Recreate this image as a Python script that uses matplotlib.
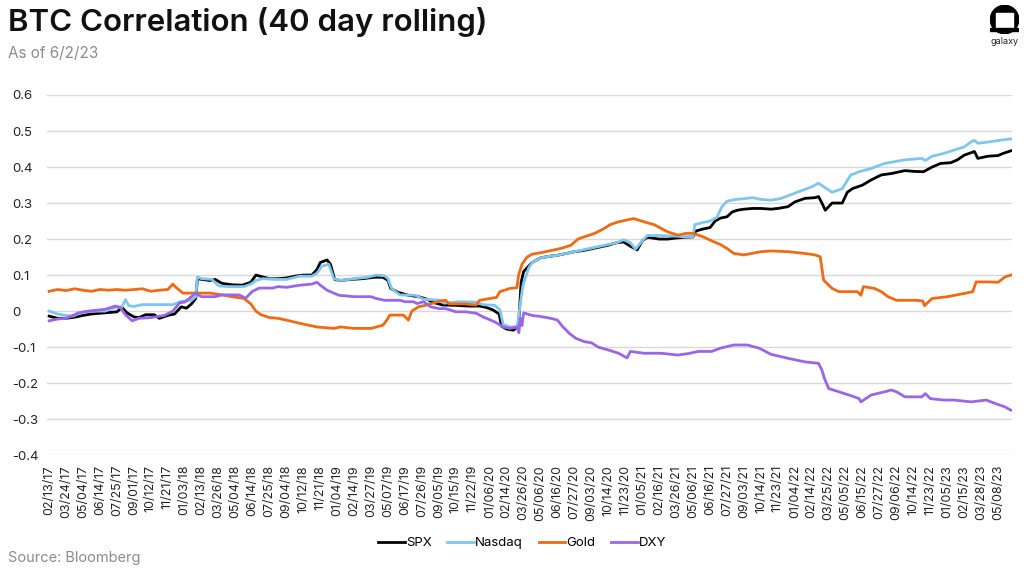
import matplotlib.pyplot as plt
from matplotlib.patches import Circle, Rectangle

plt.rcParams['font.family'] = ['Inter', 'DejaVu Sans']

# x tick labels (every 28th trading day, as in the source chart)
tick_dates = ['02/13/17', '03/24/17', '05/04/17', '06/14/17', '07/25/17', '09/01/17',
              '10/12/17', '11/21/17', '01/03/18', '02/13/18', '03/26/18', '05/04/18',
              '06/14/18', '07/25/18', '09/04/18', '10/12/18', '11/21/18', '01/04/19',
              '02/14/19', '03/27/19', '05/07/19', '06/17/19', '07/26/19', '09/05/19',
              '10/15/19', '11/22/19', '01/06/20', '02/14/20', '03/26/20', '05/06/20',
              '06/16/20', '07/27/20', '09/03/20', '10/14/20', '11/23/20', '01/05/21',
              '02/16/21', '03/26/21', '05/06/21', '06/16/21', '07/27/21', '09/03/21',
              '10/14/21', '11/23/21', '01/04/22', '02/14/22', '03/25/22', '05/05/22',
              '06/15/22', '07/27/22', '09/06/22', '10/14/22', '11/23/22', '01/05/23',
              '02/15/23', '03/28/23', '05/08/23']

# positions are in units of tick intervals (0 = 02/13/17)
spx_t = [0, 0.5, 1.0, 1.5, 2.0, 2.5, 3.0, 3.5, 4.0, 4.3, 4.6, 5.0, 5.3, 5.7, 6.2, 6.5,
         7.0, 7.4, 7.8, 8.1, 8.4, 8.65, 8.75, 9.0, 9.5, 9.8, 10.2, 10.8, 11.4, 11.9,
         12.2, 12.6, 13.0, 13.5, 14.0, 14.5, 15.0, 15.5, 15.8, 16.0, 16.4, 16.6, 16.85,
         17.2, 17.8, 18.5, 19.2, 19.7, 20.0, 20.15, 20.6, 21.2, 21.8, 22.3, 22.6, 23.2,
         24.0, 24.7, 25.4, 25.8, 26.2, 26.55, 26.7, 27.0, 27.4, 27.6, 27.7, 27.85, 28.0,
         28.5, 29.0, 29.5, 30.0, 30.5, 31.0, 31.5, 32.0, 32.5, 33.0, 33.5, 33.9, 34.3,
         34.7, 35.0, 35.3, 36.0, 36.5, 37.0, 37.5, 38.0, 38.15, 38.5, 39.0, 39.3, 39.6,
         40.0, 40.3, 40.6, 41.0, 41.5, 42.0, 42.6, 43.0, 43.6, 44.0, 44.6, 45.2, 45.4,
         45.6, 45.8, 46.2, 46.8, 47.1, 47.4, 48.0, 48.5, 49.1, 49.7, 50.5, 51.0, 51.6,
         52.1, 52.6, 53.2, 53.6, 54.0, 54.6, 54.8, 55.4, 56.0, 56.3, 56.75]
spx = [-0.014, -0.02, -0.02, -0.017, -0.012, -0.008, -0.006, -0.004, -0.002, 0.01,
       -0.005, -0.016, -0.018, -0.01, -0.01, -0.02, -0.012, -0.008, 0.012, 0.008, 0.02,
       0.035, 0.09, 0.088, 0.085, 0.088, 0.077, 0.073, 0.072, 0.08, 0.1, 0.095, 0.09,
       0.09, 0.092, 0.097, 0.1, 0.1, 0.115, 0.135, 0.142, 0.13, 0.088, 0.085, 0.088,
       0.09, 0.094, 0.094, 0.085, 0.063, 0.052, 0.044, 0.04, 0.033, 0.025, 0.017, 0.016,
       0.014, 0.014, 0.01, 0.003, -0.008, -0.042, -0.05, -0.053, -0.045, -0.04, 0.08,
       0.11, 0.135, 0.148, 0.152, 0.155, 0.16, 0.165, 0.168, 0.173, 0.178, 0.183, 0.19,
       0.192, 0.18, 0.17, 0.195, 0.205, 0.2, 0.2, 0.203, 0.205, 0.206, 0.222, 0.227,
       0.232, 0.25, 0.258, 0.262, 0.275, 0.28, 0.283, 0.285, 0.285, 0.283, 0.285, 0.29,
       0.303, 0.313, 0.315, 0.318, 0.3, 0.28, 0.3, 0.3, 0.33, 0.34, 0.35, 0.364, 0.378,
       0.382, 0.39, 0.388, 0.387, 0.4, 0.41, 0.412, 0.42, 0.433, 0.443, 0.424, 0.43,
       0.432, 0.438, 0.445]

nasdaq_t = [0, 0.5, 1.0, 1.4, 2.0, 2.4, 3.3, 3.9, 4.3, 4.5, 4.7, 5.0, 5.5, 6.5, 7.3, 7.8,
            8.4, 8.65, 8.75, 9.0, 9.6, 10.0, 10.6, 11.5, 11.9, 12.2, 12.6, 13.5, 14.0,
            14.8, 15.5, 15.8, 16.1, 16.5, 16.8, 17.2, 18.0, 18.8, 19.3, 19.8, 20.0, 20.2,
            20.7, 21.6, 22.1, 23.2, 23.3, 24.2, 25.2, 25.6, 26.3, 26.6, 26.8, 27.2, 27.6,
            27.7, 27.8, 27.95, 28.3, 28.5, 29.0, 29.5, 30.0, 30.5, 31.0, 31.5, 32.0, 32.5,
            33.0, 33.5, 33.9, 34.3, 34.6, 35.0, 35.3, 36.0, 37.0, 37.5, 38.0, 38.1, 38.5,
            39.0, 39.4, 39.7, 40.0, 40.5, 41.0, 41.5, 42.0, 42.6, 43.2, 44.2, 45.0, 45.4,
            46.0, 46.2, 46.8, 47.3, 47.8, 48.5, 49.3, 50.5, 51.5, 51.7, 52.1, 52.8, 53.4,
            54.0, 54.4, 54.6, 54.8, 55.5, 56.2, 56.75]
nasdaq = [0.0, -0.008, -0.012, -0.014, -0.002, 0.0, 0.0, 0.01, 0.012, 0.032, 0.015,
          0.013, 0.018, 0.018, 0.018, 0.027, 0.03, 0.04, 0.095, 0.09, 0.088, 0.07, 0.068,
          0.068, 0.075, 0.085, 0.09, 0.088, 0.088, 0.097, 0.097, 0.105, 0.125, 0.13, 0.09,
          0.085, 0.09, 0.094, 0.1, 0.098, 0.09, 0.063, 0.045, 0.044, 0.033, 0.03, 0.022,
          0.026, 0.025, 0.018, 0.016, 0.003, -0.038, -0.044, -0.044, -0.02, 0.02, 0.07,
          0.12, 0.135, 0.148, 0.152, 0.155, 0.16, 0.165, 0.17, 0.175, 0.18, 0.185, 0.19,
          0.198, 0.19, 0.172, 0.195, 0.21, 0.21, 0.208, 0.206, 0.207, 0.24, 0.245, 0.25,
          0.26, 0.29, 0.305, 0.31, 0.312, 0.315, 0.31, 0.308, 0.313, 0.331, 0.345, 0.355,
          0.336, 0.33, 0.34, 0.378, 0.387, 0.396, 0.41, 0.42, 0.424, 0.418, 0.43, 0.438,
          0.447, 0.456, 0.47, 0.474, 0.466, 0.47, 0.475, 0.478]

gold_t = [0, 0.5, 1.0, 1.5, 2.0, 2.5, 3.0, 3.5, 4.0, 4.5, 5.0, 5.5, 6.0, 6.5, 7.0, 7.3,
          7.5, 7.9, 8.5, 9.5, 10.2, 10.8, 11.5, 11.9, 12.2, 12.5, 13.0, 13.5, 14.0, 14.8,
          15.8, 16.8, 17.2, 18.0, 19.0, 19.3, 19.7, 20.0, 20.1, 20.9, 21.2, 21.4, 21.8,
          22.3, 22.9, 23.4, 23.6, 24.5, 25.2, 25.4, 26.0, 26.4, 26.6, 27.2, 27.6, 27.7,
          27.9, 28.2, 28.5, 29.0, 29.6, 30.2, 30.8, 31.2, 31.5, 32.2, 32.7, 33.1, 33.6,
          34.1, 34.5, 35.1, 35.7, 36.5, 37.1, 37.6, 38.0, 38.6, 39.2, 39.6, 40.0, 40.4,
          41.0, 42.0, 42.6, 43.6, 44.6, 45.2, 45.5, 45.7, 46.2, 46.6, 47.7, 47.9, 48.05,
          48.7, 49.1, 49.5, 50.0, 51.2, 51.55, 51.65, 52.1, 53.0, 54.0, 54.5, 54.7, 55.5,
          56.0, 56.4, 56.75]
gold = [0.055, 0.06, 0.057, 0.062, 0.058, 0.055, 0.06, 0.058, 0.06, 0.058, 0.06, 0.062,
        0.055, 0.058, 0.06, 0.075, 0.065, 0.05, 0.05, 0.05, 0.045, 0.04, 0.035, 0.02, 0.0,
        -0.01, -0.018, -0.02, -0.025, -0.034, -0.044, -0.048, -0.044, -0.048, -0.048,
        -0.044, -0.039, -0.02, -0.011, -0.011, -0.025, 0.0, 0.012, 0.017, 0.026, 0.03,
        0.02, 0.02, 0.017, 0.03, 0.035, 0.038, 0.054, 0.063, 0.065, 0.1, 0.13, 0.15,
        0.158, 0.162, 0.168, 0.174, 0.183, 0.2, 0.205, 0.216, 0.228, 0.24, 0.248, 0.253,
        0.257, 0.248, 0.24, 0.22, 0.211, 0.216, 0.216, 0.206, 0.193, 0.185, 0.174, 0.16,
        0.156, 0.165, 0.167, 0.165, 0.16, 0.156, 0.151, 0.086, 0.063, 0.054, 0.054, 0.044,
        0.068, 0.063, 0.054, 0.04, 0.03, 0.03, 0.028, 0.015, 0.035, 0.04, 0.049, 0.054,
        0.081, 0.081, 0.08, 0.095, 0.1]

dxy_t = [0, 0.5, 1.0, 1.5, 1.7, 2.35, 3.3, 3.9, 4.2, 4.5, 4.9, 5.3, 6.0, 6.8, 7.3, 7.7,
         8.0, 8.4, 8.6, 9.0, 9.8, 10.2, 11.2, 11.6, 12.0, 12.4, 13.2, 13.5, 14.0, 14.8,
         15.5, 15.8, 16.0, 16.4, 17.1, 18.0, 19.0, 19.3, 19.8, 20.7, 21.0, 21.5, 21.7,
         22.1, 22.5, 23.0, 23.4, 24.0, 24.6, 25.2, 25.6, 26.3, 26.8, 27.2, 27.6, 27.65,
         27.72, 27.8, 27.9, 28.0, 28.5, 29.0, 29.6, 30.0, 30.3, 30.7, 31.1, 31.6, 32.0,
         32.4, 33.0, 33.6, 34.1, 34.3, 35.1, 36.1, 37.1, 37.7, 38.3, 39.1, 39.6, 40.4,
         41.2, 41.9, 42.6, 43.6, 44.6, 45.4, 45.6, 45.75, 46.0, 46.6, 47.2, 47.8, 47.9,
         48.5, 49.3, 49.7, 50.0, 50.5, 51.5, 51.7, 52.0, 52.8, 53.4, 54.4, 55.3, 55.8,
         56.4, 56.75]
dxy = [-0.027, -0.022, -0.02, -0.01, -0.005, 0.0, 0.005, 0.014, 0.01, -0.01, -0.027,
       -0.02, -0.018, -0.012, 0.0, 0.023, 0.025, 0.04, 0.05, 0.04, 0.04, 0.045, 0.045,
       0.036, 0.055, 0.064, 0.064, 0.068, 0.066, 0.072, 0.075, 0.08, 0.072, 0.058, 0.044,
       0.04, 0.04, 0.035, 0.03, 0.03, 0.026, 0.026, 0.021, 0.026, 0.012, 0.007, 0.007,
       -0.002, -0.002, -0.006, -0.016, -0.03, -0.044, -0.048, -0.044, -0.05, -0.06, -0.02,
       -0.04, -0.005, -0.012, -0.015, -0.02, -0.025, -0.043, -0.062, -0.076, -0.085,
       -0.088, -0.1, -0.108, -0.117, -0.13, -0.112, -0.117, -0.117, -0.122, -0.118,
       -0.112, -0.112, -0.103, -0.094, -0.094, -0.103, -0.12, -0.131, -0.141, -0.145,
       -0.164, -0.187, -0.215, -0.224, -0.233, -0.243, -0.252, -0.233, -0.224, -0.219,
       -0.224, -0.238, -0.238, -0.229, -0.243, -0.247, -0.247, -0.252, -0.247, -0.256,
       -0.266, -0.275]

y_ticks = [0.6, 0.5, 0.4, 0.3, 0.2, 0.1, 0, -0.1, -0.2, -0.3, -0.4]

fig = plt.figure(figsize=(10.24, 5.74), dpi=100)
ax = fig.add_axes([0.046, 0.207, 0.942, 0.6275])

lw = 2.0
ax.plot(spx_t, spx, color='#000000', lw=lw, label='SPX')
ax.plot(nasdaq_t, nasdaq, color='#7fc6ef', lw=lw, label='Nasdaq')
ax.plot(gold_t, gold, color='#ef6a12', lw=lw, label='Gold')
ax.plot(dxy_t, dxy, color='#9a66e8', lw=lw, label='DXY')

ax.set_xlim(-0.12, 56.8)
ax.set_ylim(-0.4, 0.6)
ax.set_yticks(y_ticks)
ax.set_yticklabels(['{:g}'.format(v) for v in y_ticks], ha='left')
ax.tick_params(axis='y', length=0, pad=25, labelsize=9.5, labelcolor='#222222')
ax.set_xticks(range(len(tick_dates)))
ax.set_xticklabels(tick_dates, rotation=90)
ax.tick_params(axis='x', length=0, pad=7, labelsize=9, labelcolor='#222222')
ax.grid(axis='y', color='#d9d9d9', lw=1.0)
ax.set_axisbelow(True)
for s in ax.spines.values():
    s.set_visible(False)

leg = fig.legend(loc='center', bbox_to_anchor=(0.51, 0.054), ncol=4, frameon=False,
                 fontsize=9.5, handlelength=2.0, handletextpad=0.1, columnspacing=1.2)

fig.text(0.008, 0.962, 'BTC Correlation (40 day rolling)', fontsize=22.5,
         fontweight='semibold', va='center', color='#111111')
fig.text(0.008, 0.906, 'As of 6/2/23', fontsize=11, color='#8c8c8c', va='center')
fig.text(0.008, 0.028, 'Source: Bloomberg', fontsize=10.5, color='#8c8c8c', va='center')

# galaxy logo
lax = fig.add_axes([0.965, 0.94, 0.032, 0.052])
lax.set_xlim(-1, 1)
lax.set_ylim(-1, 1)
lax.set_aspect('equal')
lax.axis('off')
lax.add_patch(Circle((0, 0), 0.95, color='black'))
lax.add_patch(Rectangle((-0.58, -0.6), 1.16, 1.05, color='white'))
lax.add_patch(Rectangle((-0.95, -0.78), 1.9, 0.22, color='black'))
fig.text(0.981, 0.935, 'galaxy', fontsize=6.5, ha='center', va='top', color='#222222')

fig.savefig('out.png', dpi=100)
